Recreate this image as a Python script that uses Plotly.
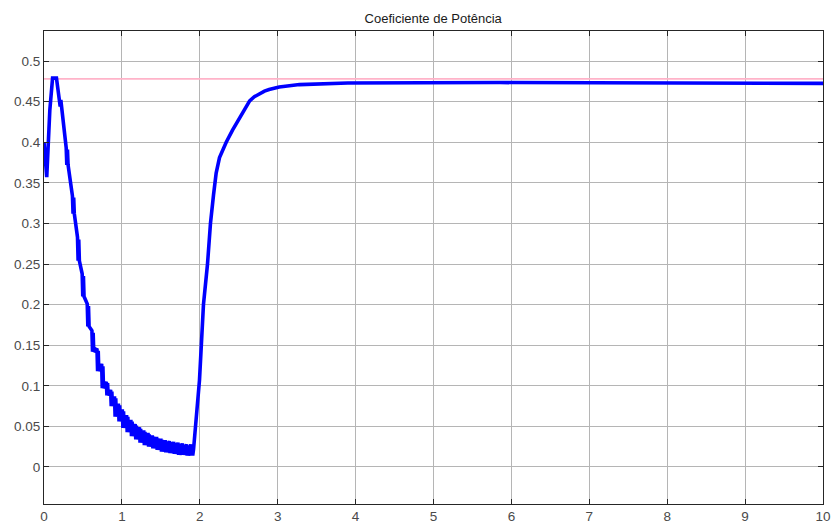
import plotly.graph_objects as go

# Start-up segment (time in s, power coefficient)
start_t = [0.0, 0.035, 0.075, 0.11, 0.16, 0.19]
start_cp = [0.40, 0.357, 0.44, 0.479, 0.479, 0.456]

# Oscillation teeth during the stall phase: time, peak and trough of each tooth
teeth_t = [0.20, 0.285, 0.365, 0.43, 0.49, 0.555, 0.615, 0.68, 0.74, 0.80,
           0.855, 0.905, 0.955, 1.005, 1.06, 1.115, 1.17, 1.225, 1.28, 1.335,
           1.39, 1.445, 1.50, 1.555, 1.61, 1.665, 1.72, 1.775, 1.83, 1.885]
teeth_top = [0.453, 0.393, 0.334, 0.283, 0.238, 0.201, 0.168, 0.146, 0.127, 0.105,
             0.095, 0.087, 0.078, 0.071, 0.064, 0.058, 0.053, 0.049, 0.045, 0.042,
             0.039, 0.037, 0.035, 0.033, 0.032, 0.031, 0.030, 0.029, 0.028, 0.028]
teeth_bot = [0.444, 0.372, 0.312, 0.254, 0.210, 0.173, 0.142, 0.118, 0.097, 0.088,
             0.075, 0.062, 0.056, 0.048, 0.043, 0.038, 0.034, 0.030, 0.027, 0.025,
             0.023, 0.021, 0.019, 0.018, 0.017, 0.016, 0.015, 0.015, 0.014, 0.014]
# each tooth is a short double swing: peak -> trough -> rebound -> trough
swing_dt = [0.0, 0.008, 0.016, 0.024]
rebound = 0.9

# Recovery and steady state
recov_t = [1.92, 1.996, 2.047, 2.099, 2.137, 2.176, 2.21, 2.253, 2.30, 2.339, 2.42,
           2.53, 2.58, 2.64, 2.70, 2.77, 2.83, 2.89, 3.02, 3.28, 3.9, 5.85, 8.0, 10.0]
recov_cp = [0.022, 0.107, 0.20, 0.25, 0.30, 0.335, 0.362, 0.381, 0.392, 0.40, 0.415,
            0.433, 0.443, 0.451, 0.456, 0.460, 0.463, 0.465, 0.468, 0.471, 0.473,
            0.4735, 0.473, 0.4725]

# Optimal power coefficient reference
ref_t = [0.0, 10.0]
ref_cp = [0.478, 0.478]

x_ticks = list(range(0, 11))
y_ticks = [0, 0.05, 0.1, 0.15, 0.2, 0.25, 0.3, 0.35, 0.4, 0.45, 0.5]
y_labels = ["0", "0.05", "0.1", "0.15", "0.2", "0.25", "0.3", "0.35", "0.4", "0.45", "0.5"]

# Assemble the signal
t = list(start_t)
cp = list(start_cp)
for ti, top, bot in zip(teeth_t, teeth_top, teeth_bot):
    mid = bot + rebound * (top - bot)
    t += [ti + d for d in swing_dt]
    cp += [top, bot, mid, bot]
t += recov_t
cp += recov_cp

fig = go.Figure()
fig.add_trace(go.Scatter(x=ref_t, y=ref_cp, mode="lines",
                         line=dict(color="#ffb3c9", width=1.6), hoverinfo="skip"))
fig.add_trace(go.Scatter(x=t, y=cp, mode="lines",
                         line=dict(color="#0000ff", width=3.6)))

axis_common = dict(
    showline=True, linecolor="#262626", linewidth=1, mirror="ticks",
    ticks="inside", ticklen=5, tickcolor="#262626", automargin=False,
    showgrid=True, gridcolor="#b5b5b5", gridwidth=1, zeroline=False,
    tickfont=dict(family="Liberation Sans, Arial, sans-serif", size=13.5, color="#4a4a4a"),
)

fig.update_layout(
    width=831, height=528,
    margin=dict(l=44, r=8, t=31, b=24),
    paper_bgcolor="white", plot_bgcolor="white",
    showlegend=False,
    title=dict(text="Coeficiente de Potência", x=0.5213, xanchor="center",
               y=1 - 18 / 528, yanchor="middle", automargin=False,
               font=dict(family="Liberation Sans, Arial, sans-serif", size=13, color="#1a1a1a")),
    xaxis=dict(range=[0, 10], tickvals=x_ticks, **axis_common),
    yaxis=dict(range=[-0.0456, 0.537], tickvals=y_ticks, ticktext=y_labels, **axis_common),
)

fig.write_html("out.html")
